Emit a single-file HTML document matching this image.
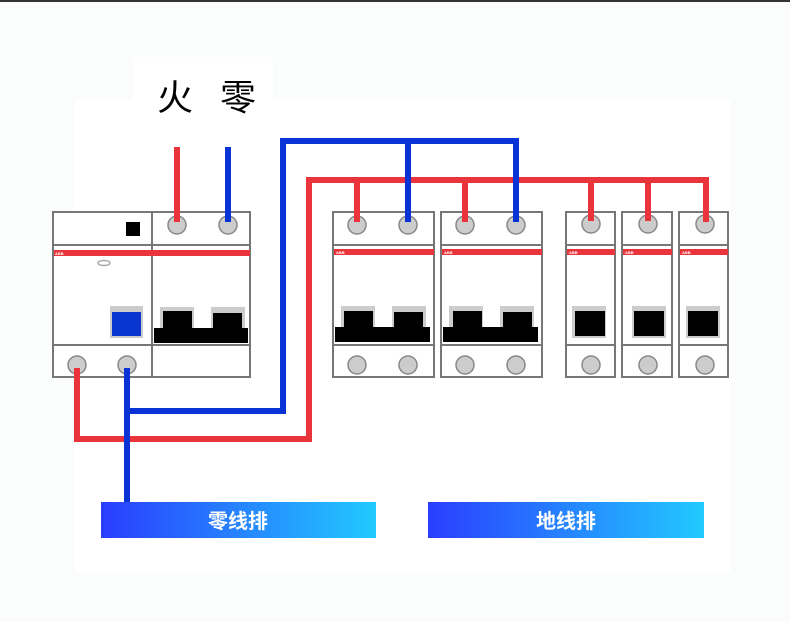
<!DOCTYPE html>
<html><head><meta charset="utf-8"><style>
html,body{margin:0;padding:0;background:#fafdfc;}
svg{display:block}
text{font-family:"Liberation Sans","Noto Sans CJK SC",sans-serif}
</style></head><body>
<svg width="790" height="622" viewBox="0 0 790 622" xmlns="http://www.w3.org/2000/svg">
<defs>
<linearGradient id="g" x1="0" x2="1" y1="0" y2="0">
<stop offset="0" stop-color="#2a3dff"/><stop offset="1" stop-color="#22caff"/>
</linearGradient>
</defs>
<rect x="0" y="0" width="790" height="622" fill="#fafdfc"/>
<rect x="0" y="0" width="790" height="2" fill="#333"/>
<rect x="75" y="100" width="656" height="472" fill="#fff"/>
<rect x="133" y="57" width="140" height="58" fill="#fff"/>
<text x="175" y="110" font-size="36" text-anchor="middle" fill="#000">火</text>
<text x="238" y="110" font-size="36" text-anchor="middle" fill="#000">零</text>

<g stroke="#777" stroke-width="2" fill="#fff">
<rect x="53" y="212" width="197" height="165"/>
<line x1="152" y1="212" x2="152" y2="377"/>
<line x1="53" y1="245" x2="250" y2="245"/>
<line x1="53" y1="345" x2="250" y2="345"/>
<rect x="333" y="212" width="101" height="165"/>
<line x1="333" y1="245" x2="434" y2="245"/><line x1="333" y1="345" x2="434" y2="345"/>
<rect x="441" y="212" width="101" height="165"/>
<line x1="441" y1="245" x2="542" y2="245"/><line x1="441" y1="345" x2="542" y2="345"/>
<rect x="566" y="212" width="49" height="165"/>
<line x1="566" y1="245" x2="615" y2="245"/><line x1="566" y1="345" x2="615" y2="345"/>
<rect x="622" y="212" width="50" height="165"/>
<line x1="622" y1="245" x2="672" y2="245"/><line x1="622" y1="345" x2="672" y2="345"/>
<rect x="679" y="212" width="49" height="165"/>
<line x1="679" y1="245" x2="728" y2="245"/><line x1="679" y1="345" x2="728" y2="345"/>
</g>
<g fill="#e8343a">
<rect x="54" y="250" width="196" height="6"/>
<rect x="334" y="249" width="100" height="6"/>
<rect x="442" y="249" width="100" height="6"/>
<rect x="567" y="249" width="48" height="6"/>
<rect x="623" y="249" width="49" height="6"/>
<rect x="680" y="249" width="48" height="6"/>
</g>
<g fill="#fff" font-size="4" font-weight="bold">
<text x="55" y="255">ABB</text><text x="336" y="254">ABB</text><text x="444" y="254">ABB</text>
<text x="569" y="254">ABB</text><text x="625" y="254">ABB</text><text x="682" y="254">ABB</text>
</g>
<rect x="126" y="222" width="14" height="14" fill="#000"/>
<ellipse cx="104" cy="263" rx="6" ry="2.5" fill="none" stroke="#aaa" stroke-width="1.5"/>
<rect x="110" y="306" width="33" height="32" fill="#ccc"/>
<rect x="112" y="312" width="29" height="24" fill="#0a36d0"/>
<g fill="#ccc">
<rect x="160" y="307" width="34" height="22"/><rect x="211" y="307" width="34" height="22"/>
<rect x="341" y="306" width="34" height="22"/><rect x="392" y="306" width="34" height="22"/>
<rect x="449" y="306" width="34" height="22"/><rect x="500" y="306" width="34" height="22"/>
<rect x="572" y="306" width="34" height="32"/><rect x="632" y="306" width="34" height="32"/>
<rect x="686" y="306" width="34" height="32"/>
</g>
<g fill="#000">
<rect x="154" y="328" width="94" height="15"/><rect x="163" y="311" width="29" height="18"/><rect x="213" y="313" width="29" height="16"/>
<rect x="335" y="327" width="95" height="15"/><rect x="344" y="311" width="29" height="17"/><rect x="394" y="312" width="29" height="16"/>
<rect x="443" y="327" width="95" height="15"/><rect x="453" y="311" width="29" height="17"/><rect x="503" y="312" width="29" height="16"/>
<rect x="575" y="311" width="30" height="25"/><rect x="634" y="311" width="30" height="25"/><rect x="688" y="311" width="30" height="25"/>
</g>
<g fill="#ccc" stroke="#888" stroke-width="1.5">
<circle cx="177" cy="225" r="9"/><circle cx="228" cy="225" r="9"/>
<circle cx="77" cy="365" r="9"/><circle cx="127" cy="365" r="9"/>
<circle cx="357" cy="225" r="9"/><circle cx="408" cy="225" r="9"/>
<circle cx="357" cy="365" r="9"/><circle cx="408" cy="365" r="9"/>
<circle cx="465" cy="225" r="9"/><circle cx="516" cy="225" r="9"/>
<circle cx="465" cy="365" r="9"/><circle cx="516" cy="365" r="9"/>
<circle cx="591" cy="224" r="9"/><circle cx="648" cy="224" r="9"/><circle cx="705" cy="224" r="9"/>
<circle cx="591" cy="365" r="9"/><circle cx="648" cy="365" r="9"/><circle cx="705" cy="365" r="9"/>
</g>
<g stroke="#e8343a" stroke-width="6" fill="none" stroke-linejoin="miter">
<line x1="177" y1="147" x2="177" y2="222"/>
<polyline points="77,368 77,439 309,439 309,180 706,180 706,222"/>
<line x1="357" y1="180" x2="357" y2="222"/>
<line x1="465" y1="180" x2="465" y2="222"/>
<line x1="591" y1="180" x2="591" y2="221"/>
<line x1="648" y1="180" x2="648" y2="221"/>
</g>
<g stroke="#0a33d6" stroke-width="6" fill="none">
<line x1="228" y1="147" x2="228" y2="222"/>
<line x1="127" y1="368" x2="127" y2="503"/>
<polyline points="127,411 283,411 283,141 516,141 516,222"/>
<line x1="408" y1="141" x2="408" y2="222"/>
</g>
<rect x="101" y="502" width="275" height="36" fill="url(#g)"/>
<rect x="428" y="502" width="276" height="36" fill="url(#g)"/>
<text x="238" y="528" font-size="20" font-weight="bold" fill="#fff" text-anchor="middle">零线排</text>
<text x="566" y="528" font-size="20" font-weight="bold" fill="#fff" text-anchor="middle">地线排</text>
</svg>
</body></html>
